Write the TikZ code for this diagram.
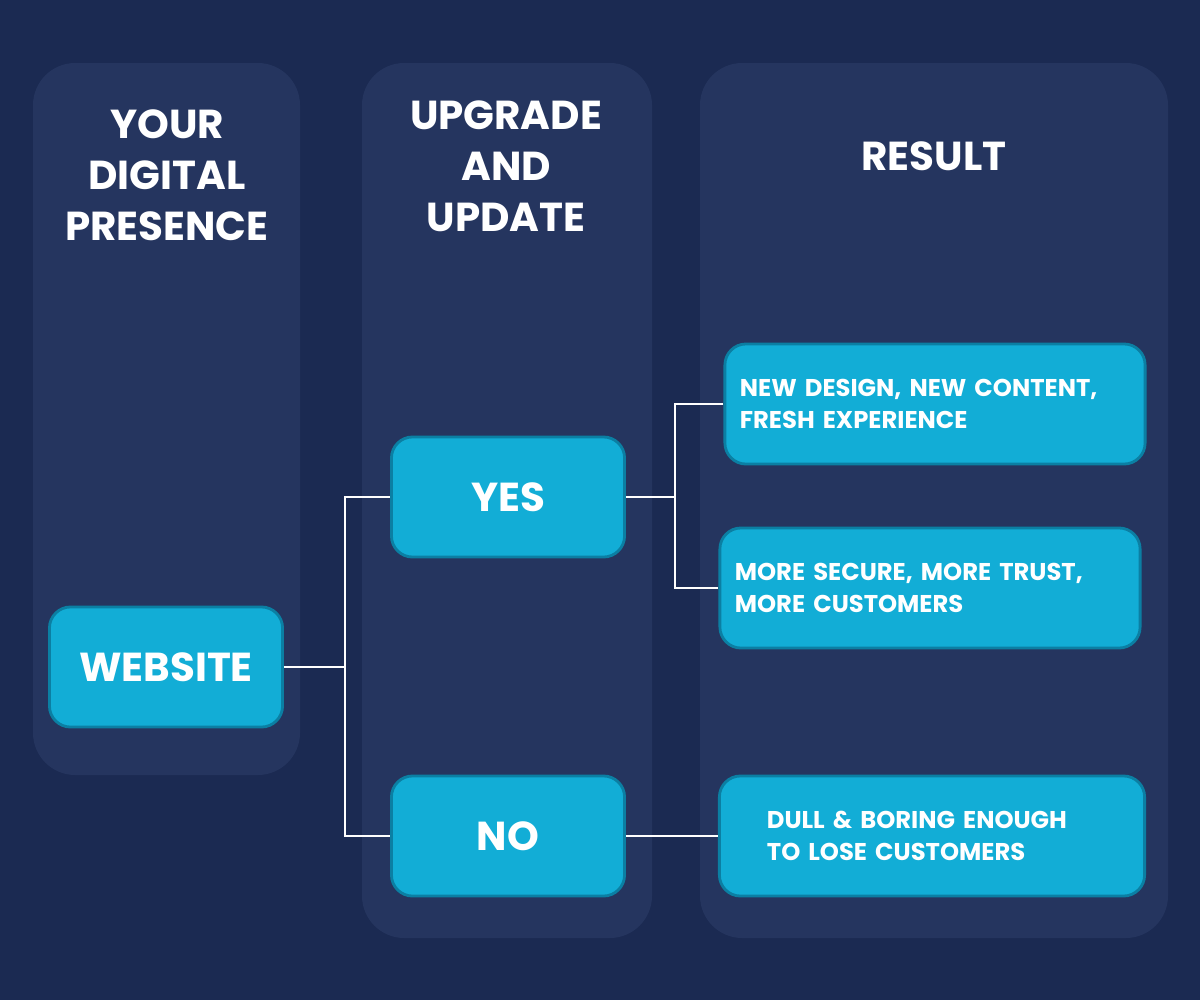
\documentclass[tikz,border=0pt]{standalone}
\usepackage{fontspec}
\setmainfont{Poppins}
\usetikzlibrary{positioning}
\definecolor{bgblue}{HTML}{1B2A52}
\definecolor{colblue}{HTML}{25355F}
\definecolor{boxblue}{HTML}{12ADD6}
\definecolor{boxshade}{HTML}{0B7FA3}
\tikzset{
  col/.style={fill=colblue, rounded corners=12pt},
  head/.style={text=white, font=\bfseries\fontsize{11.5}{14.5}\selectfont, align=center},
  box/.style={fill=boxblue, rounded corners=6pt, text=white, inner sep=0pt,
    draw=boxshade, line width=0.8pt},
  big/.style={box, font=\bfseries\fontsize{11.5}{14}\selectfont},
  res/.style={box, font=\bfseries\fontsize{6.9}{8.9}\selectfont, align=left},
  link/.style={draw=white, line width=0.6pt},
}
\begin{document}
\begin{tikzpicture}[x=0.01cm, y=-0.01cm]
\useasboundingbox[fill=bgblue] (0,0) rectangle (1200,1000);

% Columns
\fill[col] (33,63) rectangle (300,775);
\fill[col] (362,63) rectangle (652,938);
\fill[col] (700,63) rectangle (1168,938);

\node[head] (h1) at (167,175) {YOUR\\DIGITAL\\PRESENCE};
\node[head] (h2) at (506,166) {UPGRADE\\AND\\UPDATE};
\node[head] (h3) at (934,156) {RESULT};

% Boxes
\node[big, minimum width=233\pgflinewidth*0+2.33cm, minimum height=1.2cm] (web) at (166,667) {WEBSITE};
\node[big, minimum width=2.33cm, minimum height=1.2cm] (yes) at (508,497) {YES};
\node[big, minimum width=2.33cm, minimum height=1.2cm] (no) at (508,836) {NO};
\node[res, minimum width=4.2cm, minimum height=1.2cm, text width=3.9cm] (r1) at (935,404) {NEW DESIGN, NEW CONTENT,\\FRESH EXPERIENCE};
\node[res, minimum width=4.2cm, minimum height=1.2cm, text width=3.9cm] (r2) at (930,588) {MORE SECURE, MORE TRUST,\\MORE CUSTOMERS};
\node[res, minimum width=4.25cm, minimum height=1.2cm, text width=3.3cm] (r3) at (932,836) {DULL \& BORING ENOUGH\\TO LOSE CUSTOMERS};

% Connectors
\coordinate (s1) at (345,667);
\coordinate (s2) at (675,497);
\draw[link] (web.east) -- (s1);
\draw[link] (yes.west) -| (s1) |- (no.west);
\draw[link] (yes.east) -- (s2);
\draw[link] (r1.west) -| (s2) |- (r2.west);
\draw[link] (no.east) -- (r3.west);
\end{tikzpicture}
\end{document}
